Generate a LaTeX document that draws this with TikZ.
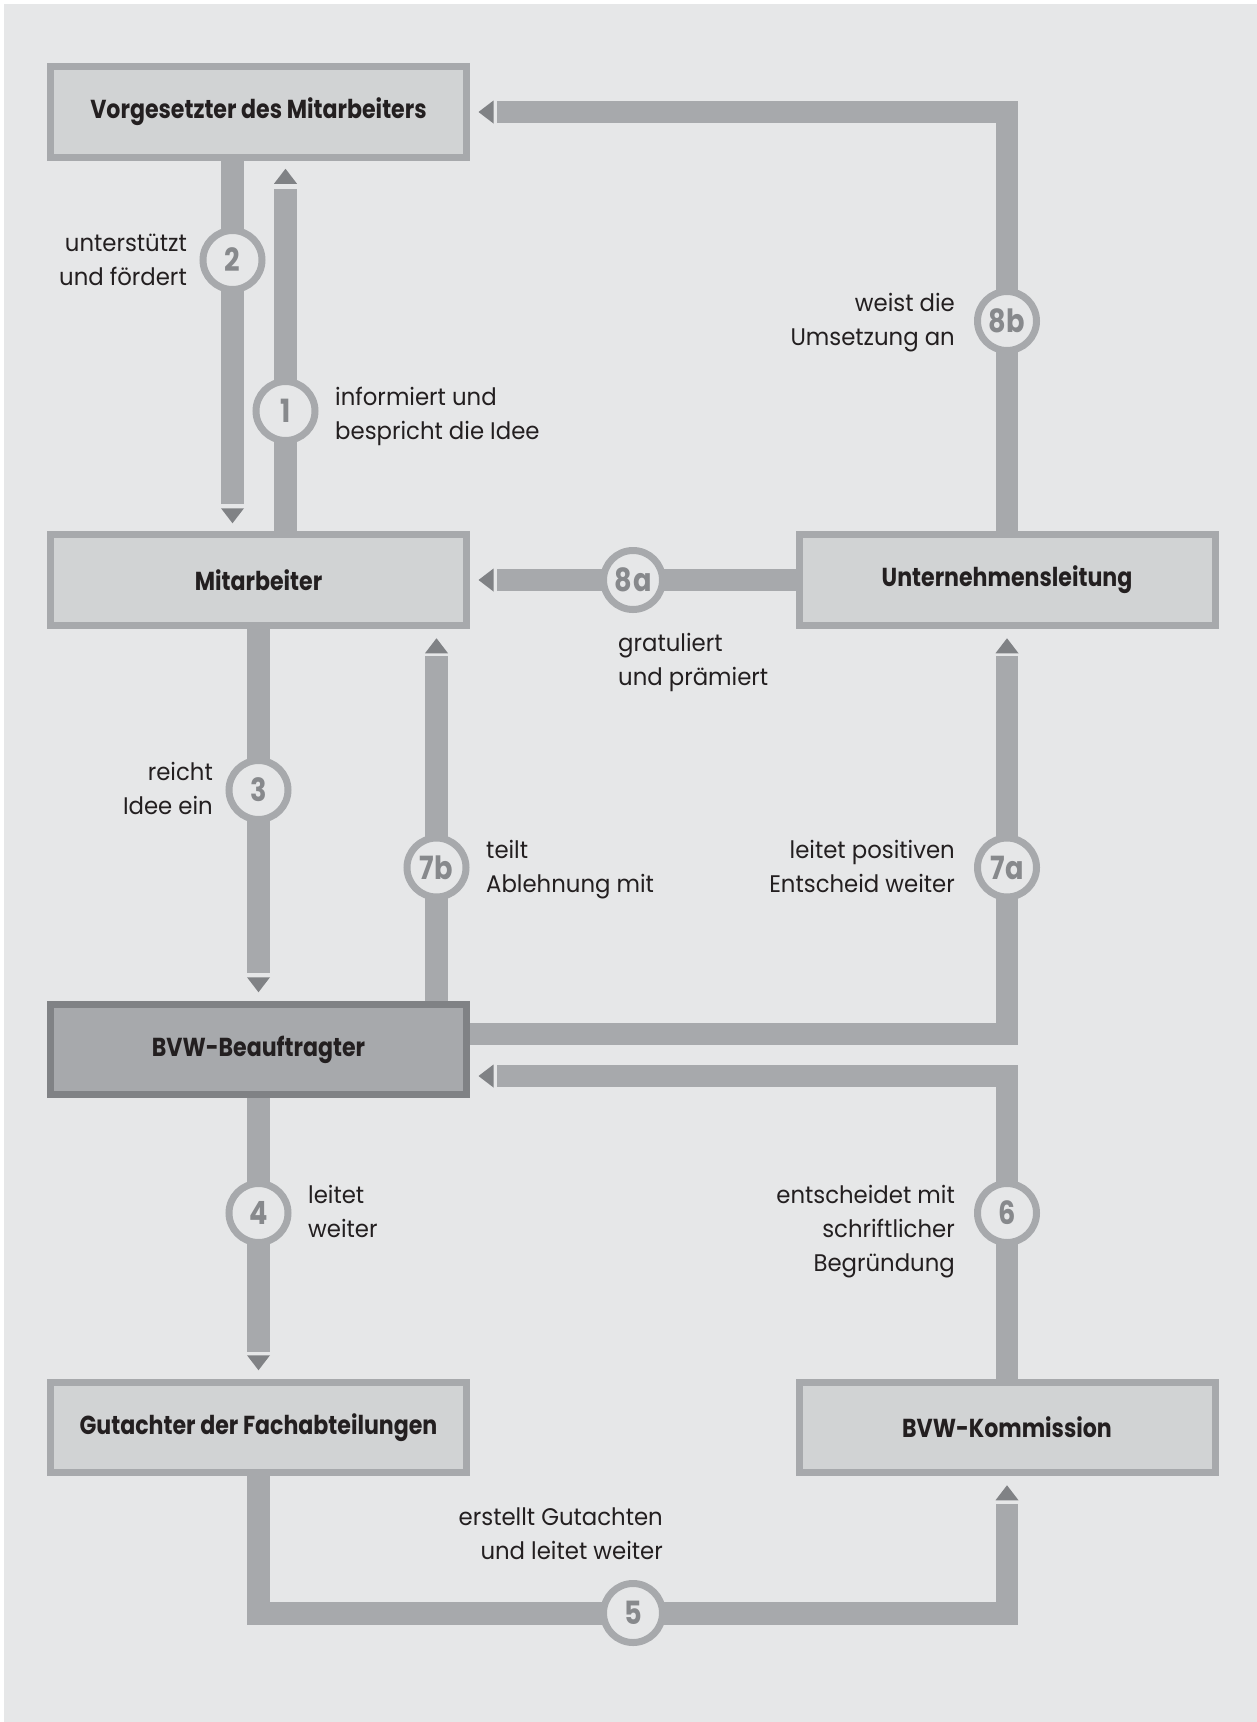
\documentclass[tikz,border=0pt]{standalone}
\usepackage{fontspec}
\setmainfont{Poppins}
\newfontfamily\lblfont{Poppins}[FakeStretch=0.95]
\newfontfamily\boxfont{Poppins}[FakeStretch=0.85]
\usetikzlibrary{calc}
\definecolor{bgc}{HTML}{E6E7E8}
\definecolor{boxc}{HTML}{D1D3D4}
\definecolor{linec}{HTML}{A7A9AC}
\definecolor{headc}{HTML}{808285}
\definecolor{txtc}{HTML}{231F20}
\definecolor{numc}{HTML}{87898C}
\newcommand\tipdown[1]{\fill[headc] ($(#1)+(-11.5,-15)$) -- ($(#1)+(11.5,-15)$) -- (#1) -- cycle;}
\newcommand\tipup[1]{\fill[headc] ($(#1)+(-11.5,15)$) -- ($(#1)+(11.5,15)$) -- (#1) -- cycle;}
\newcommand\tipleft[1]{\fill[headc] ($(#1)+(15,-11.5)$) -- ($(#1)+(15,11.5)$) -- (#1) -- cycle;}
\begin{document}
\begin{tikzpicture}[x=1pt,y=-1pt,
  box/.style={draw=linec, fill=boxc, line width=7pt, minimum width=416pt, minimum height=90.5pt, inner sep=0pt, font=\boxfont\bfseries\fontsize{26}{30}\selectfont, text=txtc},
  darkbox/.style={box, draw=headc, fill=linec},
  conn/.style={draw=linec, line width=22.5pt},
  stepnum/.style={circle, draw=linec, fill=bgc, line width=7pt, minimum size=59pt, inner sep=0pt, text=numc, font=\boxfont\bfseries\fontsize{32}{34}\selectfont},
  lbl/.style={font=\lblfont\fontsize{24}{34}\selectfont, text=txtc, inner sep=0pt}
]
\useasboundingbox (0,0) rectangle (1257,1722);
\fill[white] (0,0) rectangle (1257,1722);
\fill[bgc] (4,4) rectangle (1257,1722);

% boxes
\node[box] (vg) at (258.5,112) {Vorgesetzter des Mitarbeiters};
\node[box] (ma) at (258.5,580) {Mitarbeiter};
\node[box] (ul) at (1007,580) {Unternehmensleitung};
\node[darkbox] (bvw) at (258.5,1049.5) {BVW-Beauftragter};
\node[box] (gut) at (258.5,1427.5) {Gutachter der Fachabteilungen};
\node[box] (kom) at (1007,1427.5) {BVW-Kommission};

% connector 2: vg -> ma
\draw[conn] ($(vg.south)+(-26,0)$) -- ($(ma.north)+(-26,-27)$);
\coordinate (h2) at ($(ma.north)+(-26,-8)$); \tipdown{h2}
% connector 1: ma -> vg
\draw[conn] ($(ma.north)+(27,0)$) -- ($(vg.south)+(27,28)$);
\coordinate (h1) at ($(vg.south)+(27,8)$); \tipup{h1}
% connector 8b: ul -> vg
\draw[conn] (ul.north) |- ($(vg.east)+(27,0)$);
\coordinate (h8b) at ($(vg.east)+(8.5,0)$); \tipleft{h8b}
% connector 8a: ul -> ma
\draw[conn] (ul.west) -- ($(ma.east)+(27,0)$);
\coordinate (h8a) at ($(ma.east)+(8.5,0)$); \tipleft{h8a}
% connector 3: ma -> bvw
\draw[conn] (ma.south) -- ($(bvw.north)+(0,-28)$);
\coordinate (h3) at ($(bvw.north)+(0,-8.5)$); \tipdown{h3}
% connector 7b: bvw -> ma
\draw[conn] ($(bvw.north)+(178,0)$) -- ($(ma.south)+(178,27)$);
\coordinate (h7b) at ($(ma.south)+(178,9.5)$); \tipup{h7b}
% connector 7a: bvw -> ul
\draw[conn] ($(bvw.east)+(0,-15.5)$) -| ($(ul.south)+(0,27)$);
\coordinate (h7a) at ($(ul.south)+(0,9.5)$); \tipup{h7a}
% connector 6: kom -> bvw
\draw[conn] (kom.north) |- ($(bvw.east)+(27,26.5)$);
\coordinate (h6) at ($(bvw.east)+(8.5,26.5)$); \tipleft{h6}
% connector 4: bvw -> gut
\draw[conn] (bvw.south) -- ($(gut.north)+(0,-27)$);
\coordinate (h4) at ($(gut.north)+(0,-8.5)$); \tipdown{h4}
% connector 5: gut -> kom
\coordinate (c5) at ($(gut.south)+(0,137)$);
\draw[conn] (gut.south) -- (c5) -| ($(kom.south)+(0,28)$);
\coordinate (h5) at ($(kom.south)+(0,9)$); \tipup{h5}

% step markers
\node[stepnum] (n2) at (232.5,260) {2};
\node[stepnum] (n1) at (285.5,411) {1};
\node[stepnum] (n8b) at (1007,321) {8b};
\node[stepnum] (n8a) at (633,580) {8\kern1pt a};
\node[stepnum] (n3) at (258.5,790) {3};
\node[stepnum] (n7b) at (436.5,867.5) {7b};
\node[stepnum] (n7a) at (1007,867.5) {7a};
\node[stepnum] (n4) at (258.5,1213) {4};
\node[stepnum] (n6) at (1007,1213) {6};
\node[stepnum] (n5) at (633,1613) {5};

% labels (anchor = baseline of last line)
\node[lbl, anchor=base east, align=right] (l2) at (187,285) {unterstützt\\und fördert};
\node[lbl, anchor=base west, align=left] (l1) at (335,439) {informiert und\\bespricht die Idee};
\node[lbl, anchor=base east, align=right] (l8b) at (955,345) {weist die\\Umsetzung an};
\node[lbl, anchor=base west, align=left] (l8a) at (618,685) {gratuliert\\und prämiert};
\node[lbl, anchor=base east, align=right] (l3) at (213,814) {reicht\\Idee ein};
\node[lbl, anchor=base west, align=left] (l7b) at (486,892) {teilt\\Ablehnung mit};
\node[lbl, anchor=base east, align=right] (l7a) at (955,892) {leitet positiven\\Entscheid weiter};
\node[lbl, anchor=base west, align=left] (l4) at (308,1237.5) {leitet\\weiter};
\node[lbl, anchor=base east, align=right] (l6) at (955,1271) {entscheidet mit\\schriftlicher\\Begründung};
\node[lbl, anchor=base east, align=right] (l5) at (663,1559) {erstellt Gutachten\\und leitet weiter};
\end{tikzpicture}
\end{document}
